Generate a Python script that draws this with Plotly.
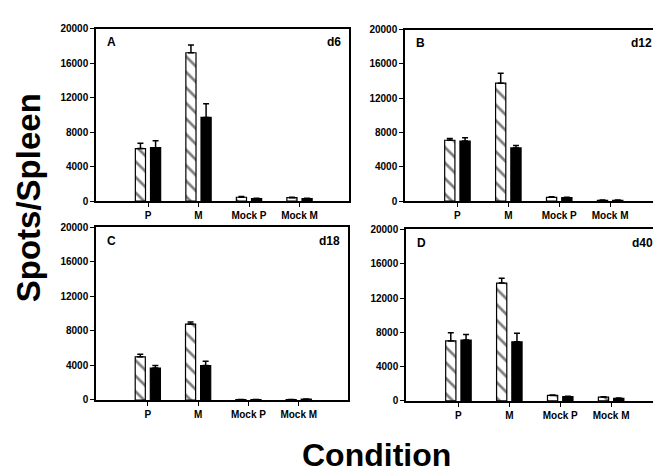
import plotly.graph_objects as go

categories = ["P", "M", "Mock P", "Mock M"]
panels = ["A", "B", "C", "D"]
days = ["d6", "d12", "d18", "d40"]

hatched_vals = {
    "A": [6100, 17200, 450, 400],
    "B": [7100, 13750, 450, 100],
    "C": [5000, 8800, 50, 50],
    "D": [7000, 13750, 650, 450],
}
hatched_err = {
    "A": [600, 900, 80, 60],
    "B": [200, 1150, 50, 30],
    "C": [300, 250, 20, 20],
    "D": [950, 550, 60, 50],
}
black_vals = {
    "A": [6200, 9700, 300, 300],
    "B": [7000, 6200, 420, 100],
    "C": [3700, 4000, 50, 100],
    "D": [7100, 6900, 500, 300],
}
black_err = {
    "A": [800, 1600, 40, 40],
    "B": [400, 300, 40, 30],
    "C": [300, 500, 20, 30],
    "D": [650, 1000, 50, 40],
}
y_ticks = [0, 4000, 8000, 12000, 16000, 20000]

W, H = 661, 475
# pixel boxes (left, right, top, bottom)
boxes = {
    "A": (88, 341, 15, 192),
    "B": (397, 652, 16, 192),
    "C": (88, 340, 219, 396),
    "D": (398, 653, 221, 397),
}

font = "Liberation Sans, Arial, sans-serif"
fig = go.Figure()
layout = dict(
    width=W, height=H, margin=dict(l=0, r=0, t=0, b=0),
    paper_bgcolor="white", plot_bgcolor="white",
    barmode="group", bargap=0.4, bargroupgap=0.33,
    showlegend=False, font=dict(family=font, color="black"),
)
annotations = []
for i, p in enumerate(panels):
    n = "" if i == 0 else str(i + 1)
    xa, ya = "x" + n, "y" + n
    l, r, t, b = boxes[p]
    fig.add_trace(go.Bar(
        x=categories, y=hatched_vals[p], xaxis=xa, yaxis=ya,
        marker=dict(color="white", line=dict(color="black", width=1.2),
                    pattern=dict(shape="\\", fgcolor="black", bgcolor="white",
                                 size=11, solidity=0.25)),
        error_y=dict(type="data", symmetric=False, array=hatched_err[p],
                     arrayminus=[0] * 4, color="black", thickness=1.5, width=3),
    ))
    fig.add_trace(go.Bar(
        x=categories, y=black_vals[p], xaxis=xa, yaxis=ya,
        marker=dict(color="black", line=dict(color="black", width=1.2)),
        error_y=dict(type="data", symmetric=False, array=black_err[p],
                     arrayminus=[0] * 4, color="black", thickness=1.5, width=3),
    ))
    layout["xaxis" + n] = dict(
        domain=[l / W, r / W], anchor=ya, range=[-1.03, 3.98],
        tickvals=categories, ticktext=["<b>" + c + "</b>" for c in categories],
        showline=True, linecolor="black", linewidth=1.5, mirror=True,
        ticks="outside", ticklen=4, tickwidth=1.2, tickcolor="black",
        tickfont=dict(size=10, family=font, color="black"),
        showgrid=False, zeroline=False, fixedrange=True,
    )
    layout["yaxis" + n] = dict(
        domain=[1 - b / H, 1 - t / H], anchor=xa, range=[0, 20000],
        tickvals=y_ticks, ticktext=["<b>" + str(v) + "</b>" for v in y_ticks],
        showline=True, linecolor="black", linewidth=1.5, mirror=True,
        ticks="outside", ticklen=4, tickwidth=1.2, tickcolor="black",
        tickfont=dict(size=10, family=font, color="black"),
        showgrid=False, zeroline=False, fixedrange=True,
    )
    annotations.append(dict(text="<b>" + p + "</b>", xref=xa + " domain", yref=ya + " domain",
                            x=0.035, y=0.975, xanchor="left", yanchor="top", showarrow=False,
                            font=dict(size=12, family=font, color="black")))
    annotations.append(dict(text="<b>" + days[i] + "</b>", xref=xa + " domain", yref=ya + " domain",
                            x=0.975, y=0.975, xanchor="right", yanchor="top", showarrow=False,
                            font=dict(size=12, family=font, color="black")))

annotations.append(dict(text="<b>Spots/Spleen</b>", xref="paper", yref="paper",
                        x=20 / W, y=1 - 189 / H, textangle=-90, showarrow=False,
                        xanchor="center", yanchor="middle",
                        font=dict(size=33, family=font, color="black")))
annotations.append(dict(text="<b>Condition</b>", xref="paper", yref="paper",
                        x=368 / W, y=1 - 452 / H, showarrow=False,
                        xanchor="center", yanchor="middle",
                        font=dict(size=32, family=font, color="black")))
layout["annotations"] = annotations
fig.update_layout(**layout)
fig.write_html("out.html")
